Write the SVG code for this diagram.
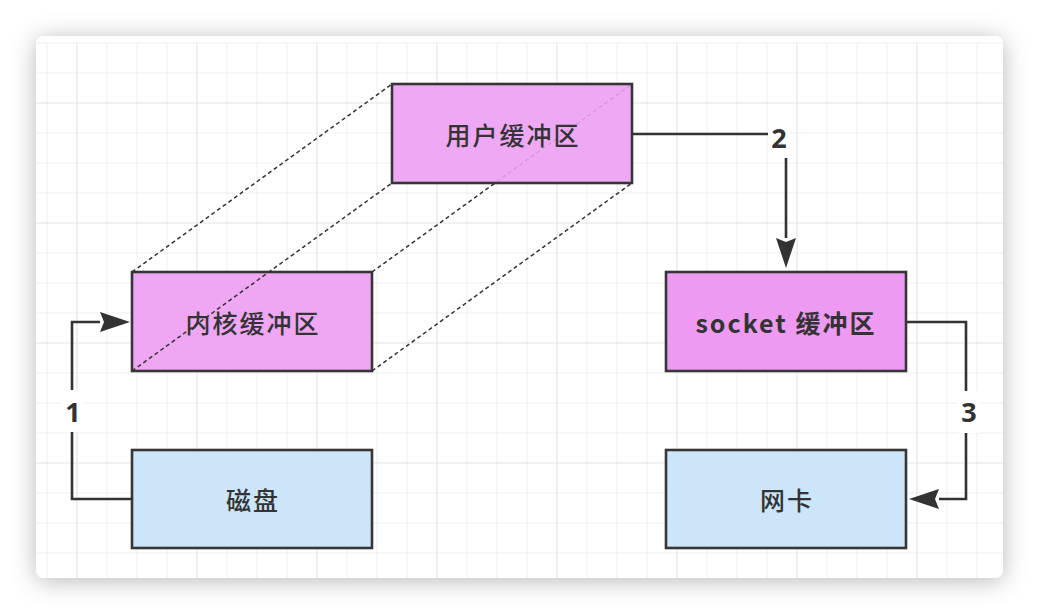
<svg xmlns="http://www.w3.org/2000/svg" width="1038" height="614" viewBox="0 0 1038 614">
  <style>
    .minor { stroke: #efefef; stroke-width: 1; }
    .major { stroke: #e4e4e4; stroke-width: 1.2; }
    .box { stroke: #363636; stroke-width: 2.6; }
    .pink { fill: #efa7f4; }
    .pink2 { fill: #ee9af3; }
    .blue { fill: #cce5f9; }
    .lbl { font-family: "Noto Sans CJK SC", "Liberation Sans", sans-serif; font-size: 25px; font-weight: 500; letter-spacing: 2px; fill: #333333; text-anchor: middle; dominant-baseline: central; }
    .bold { font-weight: bold; }
    .num { font-family: "Open Sans", "Liberation Sans", sans-serif; font-size: 27px; font-weight: bold; fill: #333333; text-anchor: middle; }
    .conn { fill: none; stroke: #333333; stroke-width: 2.6; }
    .dash { fill: none; stroke: #333333; stroke-width: 1.5; stroke-dasharray: 4 3; }
    .lblbg { fill: #ffffff; }
  </style>
  <defs>
    <filter id="shadow" x="-10%" y="-10%" width="120%" height="125%">
      <feDropShadow dx="0" dy="3" stdDeviation="12" flood-color="#000000" flood-opacity="0.28"/>
    </filter>
    <clipPath id="cardclip">
      <rect x="36" y="36" width="967" height="542" rx="8"/>
    </clipPath>
    <marker id="arrow" markerUnits="userSpaceOnUse" markerWidth="32" markerHeight="22" refX="0" refY="10" orient="auto" viewBox="0 0 32 22">
      <path d="M0,0 L30,10 L0,20 L4,10 Z" fill="#333333"/>
    </marker>
  </defs>

  <rect x="0" y="0" width="1038" height="614" fill="#ffffff"/>
  <rect x="36" y="36" width="967" height="542" rx="8" fill="#ffffff" filter="url(#shadow)"/>

  <g id="grid" clip-path="url(#cardclip)">
    <g class="minor">
      <line x1="47" y1="43" x2="47" y2="578"/>
      <line x1="107" y1="43" x2="107" y2="578"/>
      <line x1="137" y1="43" x2="137" y2="578"/>
      <line x1="167" y1="43" x2="167" y2="578"/>
      <line x1="227" y1="43" x2="227" y2="578"/>
      <line x1="257" y1="43" x2="257" y2="578"/>
      <line x1="287" y1="43" x2="287" y2="578"/>
      <line x1="347" y1="43" x2="347" y2="578"/>
      <line x1="377" y1="43" x2="377" y2="578"/>
      <line x1="407" y1="43" x2="407" y2="578"/>
      <line x1="467" y1="43" x2="467" y2="578"/>
      <line x1="497" y1="43" x2="497" y2="578"/>
      <line x1="527" y1="43" x2="527" y2="578"/>
      <line x1="587" y1="43" x2="587" y2="578"/>
      <line x1="617" y1="43" x2="617" y2="578"/>
      <line x1="647" y1="43" x2="647" y2="578"/>
      <line x1="707" y1="43" x2="707" y2="578"/>
      <line x1="737" y1="43" x2="737" y2="578"/>
      <line x1="767" y1="43" x2="767" y2="578"/>
      <line x1="827" y1="43" x2="827" y2="578"/>
      <line x1="857" y1="43" x2="857" y2="578"/>
      <line x1="887" y1="43" x2="887" y2="578"/>
      <line x1="947" y1="43" x2="947" y2="578"/>
      <line x1="977" y1="43" x2="977" y2="578"/>
      <line x1="36" y1="43" x2="1003" y2="43"/>
      <line x1="36" y1="73" x2="1003" y2="73"/>
      <line x1="36" y1="133" x2="1003" y2="133"/>
      <line x1="36" y1="163" x2="1003" y2="163"/>
      <line x1="36" y1="193" x2="1003" y2="193"/>
      <line x1="36" y1="253" x2="1003" y2="253"/>
      <line x1="36" y1="283" x2="1003" y2="283"/>
      <line x1="36" y1="313" x2="1003" y2="313"/>
      <line x1="36" y1="373" x2="1003" y2="373"/>
      <line x1="36" y1="403" x2="1003" y2="403"/>
      <line x1="36" y1="433" x2="1003" y2="433"/>
      <line x1="36" y1="493" x2="1003" y2="493"/>
      <line x1="36" y1="523" x2="1003" y2="523"/>
      <line x1="36" y1="553" x2="1003" y2="553"/>
    </g>
    <g class="major">
      <line x1="77" y1="43" x2="77" y2="578"/>
      <line x1="197" y1="43" x2="197" y2="578"/>
      <line x1="317" y1="43" x2="317" y2="578"/>
      <line x1="437" y1="43" x2="437" y2="578"/>
      <line x1="557" y1="43" x2="557" y2="578"/>
      <line x1="677" y1="43" x2="677" y2="578"/>
      <line x1="797" y1="43" x2="797" y2="578"/>
      <line x1="917" y1="43" x2="917" y2="578"/>
      <line x1="36" y1="103" x2="1003" y2="103"/>
      <line x1="36" y1="223" x2="1003" y2="223"/>
      <line x1="36" y1="343" x2="1003" y2="343"/>
      <line x1="36" y1="463" x2="1003" y2="463"/>
    </g>
  </g>

  <g id="node-kernel">
    <rect class="box pink" x="132" y="272" width="240" height="99"/>
    <text class="lbl" x="253" y="322">内核缓冲区</text>
  </g>

  <g id="node-disk">
    <rect class="box blue" x="132" y="450" width="240" height="98"/>
    <text class="lbl" x="253" y="499">磁盘</text>
  </g>

  <g id="node-socket">
    <rect class="box pink2" x="666" y="272" width="240" height="99"/>
    <text class="lbl bold" x="786" y="322">socket 缓冲区</text>
  </g>

  <g id="node-nic">
    <rect class="box blue" x="666" y="450" width="240" height="98"/>
    <text class="lbl" x="787" y="499">网卡</text>
  </g>

  <g id="dashed-guides">
    <line class="dash" x1="132" y1="272" x2="392" y2="84"/>
    <line class="dash" x1="372" y1="272" x2="632" y2="84"/>
    <line class="dash" x1="372" y1="371" x2="632" y2="183"/>
    <line class="dash" x1="132" y1="371" x2="392" y2="183"/>
  </g>

  <g id="node-user">
    <rect class="box" x="392" y="84" width="240" height="99" fill="#ed9ff2" fill-opacity="0.9"/>
    <text class="lbl" x="513" y="134">用户缓冲区</text>
  </g>

  <g id="connectors">
    <path class="conn" d="M132,499 H72 V322 H100" marker-end="url(#arrow)"/>
    <path class="conn" d="M632,134 H786 V238" marker-end="url(#arrow)"/>
    <path class="conn" d="M906,322 H966 V499 H939" marker-end="url(#arrow)"/>
    <rect class="lblbg" x="62" y="390" width="22" height="42"/>
    <text class="num" x="73" y="422">1</text>
    <rect class="lblbg" x="768" y="118" width="22" height="40"/>
    <text class="num" x="779" y="148">2</text>
    <rect class="lblbg" x="958" y="391" width="22" height="42"/>
    <text class="num" x="969" y="422">3</text>
  </g>
</svg>
